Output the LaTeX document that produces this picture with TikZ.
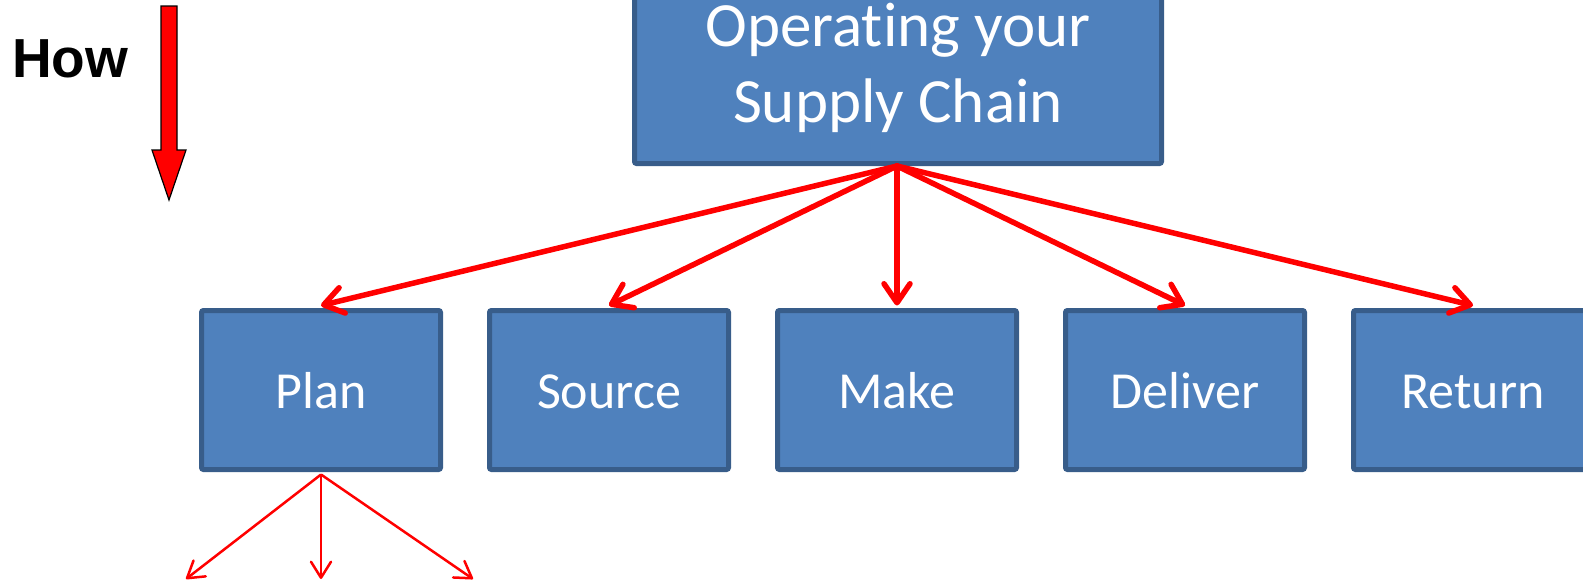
\documentclass[tikz,border=0pt]{standalone}
\usepackage{fontspec}
\setmainfont{Carlito}[Ligatures={NoCommon,NoContextual}]
\newfontfamily\howfont{Liberation Sans}
\usetikzlibrary{arrows.meta}
\definecolor{boxfill}{HTML}{4F81BD}
\definecolor{boxline}{HTML}{385D8A}
\tikzset{
  procbox/.style={draw=boxline, fill=boxfill, line width=5pt, rounded corners=2pt,
    text=white, inner sep=0pt},
  stagebox/.style={procbox, minimum width=239pt, minimum height=159pt,
    font=\fontsize{52}{62}\selectfont, text height=36pt, text depth=0pt},
  bigarrow/.style={draw=red, line width=5.5pt, line cap=round,
    -{Straight Barb[length=19pt, width=26pt, round]}},
  smallarrow/.style={draw=red, line width=2.5pt,
    -{Straight Barb[length=16pt, width=20pt, round]}},
}
\begin{document}
\begin{tikzpicture}[x=1pt, y=-1pt]
\useasboundingbox (0,0) rectangle (1583,582);
\clip (0,0) rectangle (1583,582);

% direction marker
\node[anchor=base west, inner sep=0pt, font=\howfont\bfseries\fontsize{55}{66}\selectfont]
  (how) at (12,77) {How};
\draw[fill=red, draw=black, line width=1.2pt, line join=miter]
  (161,6) -- (177,6) -- (177,150) -- (186,150) -- (169,200) -- (152,150) -- (161,150) -- cycle;

% top-level process
\node[procbox, minimum width=527pt, minimum height=191pt, align=center,
  font=\fontsize{63}{76}\selectfont] (chain) at (898,68) {Operat\kern0pt ing your\\Supply Chain};

% level-two processes
\node[stagebox] (plan)    at (321,390)  {Plan};
\node[stagebox] (source)  at (609,390)  {Source};
\node[stagebox] (make)    at (897,390)  {Make};
\node[stagebox] (deliver) at (1185,390) {Deliver};
\node[stagebox] (return)  at (1473,390) {Return};

% decomposition arrows
\foreach \n in {plan, source, make, deliver, return}
  \draw[bigarrow] ([xshift=-1pt]chain.south) -- ([yshift=2.5pt]\n.north);

% further breakdown of Plan
\coordinate (p1) at (186,579);
\coordinate (p2) at (321,579);
\coordinate (p3) at (473,579);
\foreach \p in {p1, p2, p3}
  \draw[smallarrow] ([yshift=-2.5pt]plan.south) -- (\p);
\end{tikzpicture}
\end{document}
